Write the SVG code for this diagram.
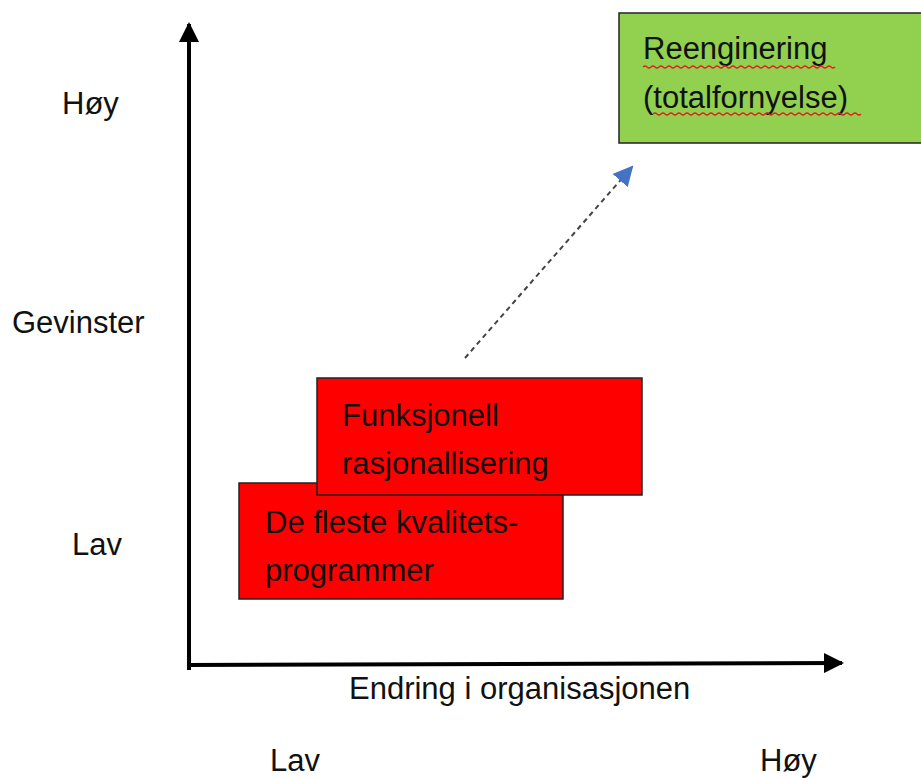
<svg xmlns="http://www.w3.org/2000/svg" width="921" height="778" viewBox="0 0 921 778">
<style>
text{font-family:"Liberation Sans","DejaVu Sans",sans-serif;font-size:31px;fill:#111}
.box{stroke:#222;stroke-width:1.5}
.red{fill:#ff0000}
.green{fill:#92d050}
.axis{stroke:#000;stroke-width:4;fill:none}
.sq{stroke:#e02020;stroke-width:1.2;fill:none}
</style>
<defs>
<marker id="ah" viewBox="0 0 10 10" refX="9" refY="5" markerWidth="5" markerHeight="5" orient="auto" markerUnits="strokeWidth">
<path d="M0,0 L10,5 L0,10 z" fill="#000"/>
</marker>
<marker id="bh" viewBox="0 0 10 10" refX="9" refY="5" markerWidth="10" markerHeight="10" orient="auto" markerUnits="strokeWidth">
<path d="M0,0 L10,5 L0,10 z" fill="#4472c4"/>
</marker>
</defs>
<rect width="921" height="778" fill="#fff"/>
<g id="axes">
<line class="axis" x1="189" y1="670" x2="189" y2="24" marker-end="url(#ah)"/>
<line class="axis" x1="187" y1="665" x2="842" y2="663" marker-end="url(#ah)"/>
</g>
<g id="labels">
<text x="62" y="114">Høy</text>
<text x="12" y="333">Gevinster</text>
<text x="72" y="555">Lav</text>
<text x="349" y="699">Endring i organisasjonen</text>
<text x="270" y="771">Lav</text>
<text x="760" y="771">Høy</text>
</g>
<g id="node-kvalitet">
<rect class="box red" x="239" y="483" width="324" height="116"/>
<text x="265" y="533">De fleste kvalitets-</text>
<text x="265" y="581">programmer</text>
</g>
<g id="node-funksjonell">
<rect class="box red" x="317" y="378" width="325" height="117"/>
<text x="342" y="426">Funksjonell</text>
<text x="342" y="474">rasjonallisering</text>
</g>
<g id="node-reengineering">
<rect class="box green" x="619" y="13" width="310" height="130"/>
<text x="643" y="59">Reenginering</text>
<text x="643" y="108">(totalfornyelse)</text>
<path class="sq" d="M643,67 q2,-2 4,0 t4,0 t4,0 t4,0 t4,0 t4,0 t4,0 t4,0 t4,0 t4,0 t4,0 t4,0 t4,0 t4,0 t4,0 t4,0 t4,0 t4,0 t4,0 t4,0 t4,0 t4,0 t4,0 t4,0 t4,0 t4,0 t4,0 t4,0 t4,0 t4,0 t4,0 t4,0 t4,0 t4,0 t4,0 t4,0 t4,0 t4,0 t4,0 t4,0 t4,0 t4,0 t4,0 t4,0 t4,0 t4,0 t4,0 t4,0"/>
<path class="sq" d="M653,114 q2,-2 4,0 t4,0 t4,0 t4,0 t4,0 t4,0 t4,0 t4,0 t4,0 t4,0 t4,0 t4,0 t4,0 t4,0 t4,0 t4,0 t4,0 t4,0 t4,0 t4,0 t4,0 t4,0 t4,0 t4,0 t4,0 t4,0 t4,0 t4,0 t4,0 t4,0 t4,0 t4,0 t4,0 t4,0 t4,0 t4,0 t4,0 t4,0 t4,0 t4,0 t4,0 t4,0 t4,0 t4,0 t4,0 t4,0 t4,0 t4,0 t4,0 t4,0 t4,0 t4,0"/>
</g>
<g id="connectors">
<line x1="465" y1="358" x2="632" y2="167" stroke="#444" stroke-width="2" stroke-dasharray="5,4" marker-end="url(#bh)"/>
</g>
</svg>
